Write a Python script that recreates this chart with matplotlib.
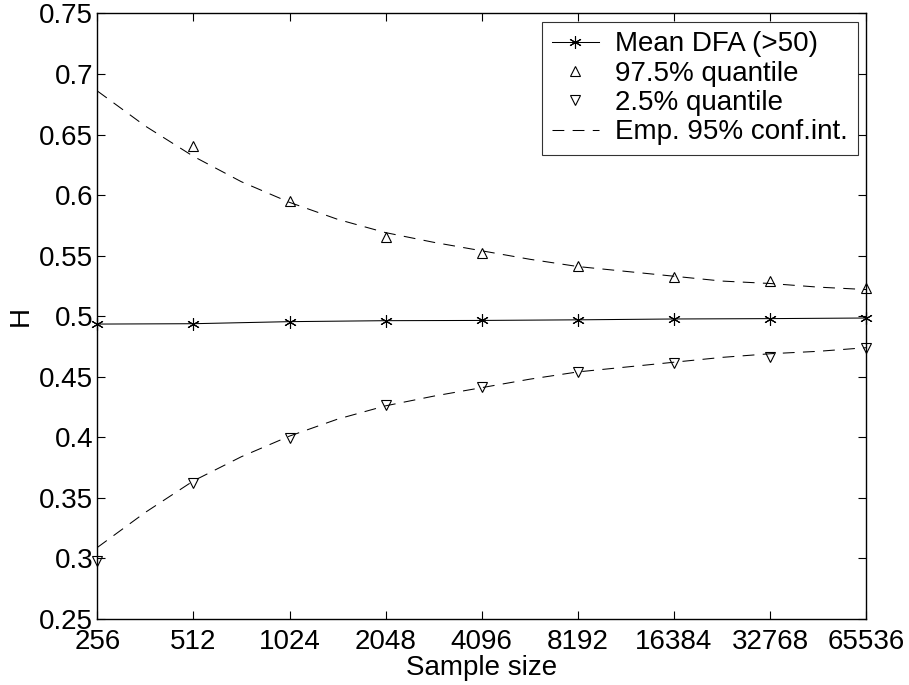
import matplotlib

matplotlib.use("Agg")
import matplotlib.pyplot as plt
from matplotlib.ticker import FixedLocator, FixedFormatter, NullLocator

plt.rcParams["font.family"] = ["Liberation Sans", "DejaVu Sans"]
plt.rcParams["lines.scale_dashes"] = False

# sample sizes (log2 axis)
sizes = [256, 512, 1024, 2048, 4096, 8192, 16384, 32768, 65536]
size_labels = [str(s) for s in sizes]

# mean DFA estimate of H
mean_dfa = [0.4935, 0.4938, 0.4955, 0.4963, 0.4965, 0.4970, 0.4977, 0.4980, 0.4985]

# empirical quantiles (97.5% at 256 lies outside the plotted range)
q975_sizes = [512, 1024, 2048, 4096, 8192, 16384, 32768, 65536]
q975 = [0.6405, 0.5955, 0.5655, 0.5522, 0.5412, 0.5326, 0.5288, 0.5236]
q025 = [0.2975, 0.3626, 0.3996, 0.4263, 0.4412, 0.4540, 0.4617, 0.4664, 0.4739]

# smooth confidence band, read at half-octave steps
band_sizes = [256, 362, 512, 724, 1024, 1448, 2048, 2896, 4096, 5793, 8192,
              11585, 16384, 23170, 32768, 46341, 65536]
band_upper = [0.686, 0.657, 0.632, 0.611, 0.594, 0.580, 0.569, 0.561, 0.554,
              0.547, 0.541, 0.537, 0.533, 0.529, 0.527, 0.524, 0.522]
band_lower = [0.309, 0.338, 0.364, 0.384, 0.401, 0.415, 0.426, 0.434, 0.441,
              0.448, 0.454, 0.458, 0.462, 0.466, 0.469, 0.471, 0.474]

fig = plt.figure(figsize=(9.09, 6.85), dpi=100)
ax = fig.add_axes([0.107, 0.0964, 0.846, 0.884])

fs = 20
lw = 0.75
dash = (8.5, 6.0)
asterisk = (6, 2, 0)

ax.plot(sizes, mean_dfa, color="black", lw=lw, marker=asterisk, ms=9, mew=0.8,
        mec="black", label="Mean DFA (>50)", clip_on=False, zorder=3)
ax.plot(q975_sizes, q975, ls="none", marker="^", ms=7.5, mfc="none", mec="black",
        mew=0.8, label="97.5% quantile", clip_on=False, zorder=3)
ax.plot(sizes, q025, ls="none", marker="v", ms=7.5, mfc="none", mec="black",
        mew=0.8, label="2.5% quantile", clip_on=False, zorder=3)
ax.plot(band_sizes, band_upper, color="black", lw=lw, ls=(0, dash),
        label="Emp. 95% conf.int.")
ax.plot(band_sizes, band_lower, color="black", lw=lw, ls=(0, dash))

ax.set_xscale("log", base=2)
ax.set_xlim(256, 65536)
ax.set_ylim(0.25, 0.75)
ax.xaxis.set_major_locator(FixedLocator(sizes))
ax.xaxis.set_major_formatter(FixedFormatter(size_labels))
ax.xaxis.set_minor_locator(NullLocator())
yt = [0.25, 0.3, 0.35, 0.4, 0.45, 0.5, 0.55, 0.6, 0.65, 0.7, 0.75]
ax.yaxis.set_major_locator(FixedLocator(yt))
ax.yaxis.set_major_formatter(FixedFormatter([f"{v:g}" for v in yt]))

ax.tick_params(direction="in", length=6, width=0.8, top=True, right=True,
               labelsize=fs)
ax.tick_params(axis="x", pad=7)
ax.tick_params(axis="y", pad=3)
for sp in ax.spines.values():
    sp.set_linewidth(1.0)

ax.set_xlabel("Sample size", fontsize=fs, labelpad=0)
ax.set_ylabel("H", fontsize=fs, labelpad=4)

leg = ax.legend(loc="upper right", fontsize=fs, numpoints=1, frameon=True,
                fancybox=False, borderaxespad=0.3, handlelength=1.7,
                handletextpad=0.6, labelspacing=0.12, borderpad=0.35)
leg.get_frame().set_edgecolor("black")
leg.get_frame().set_linewidth(0.8)

fig.savefig("out.png", dpi=100)
